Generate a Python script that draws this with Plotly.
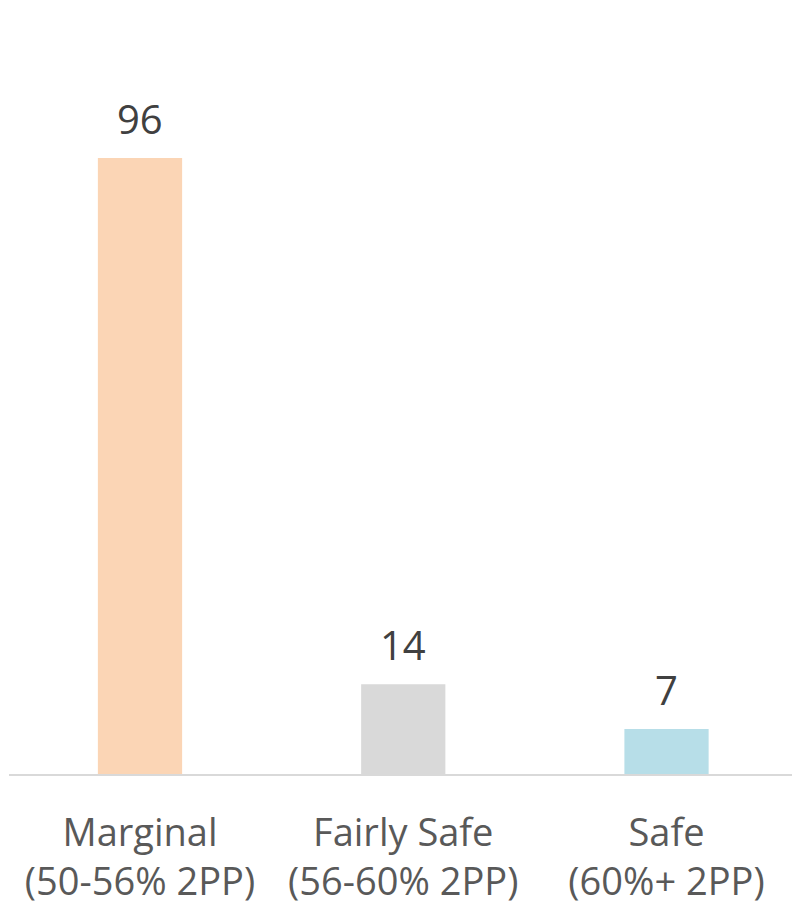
import plotly.graph_objects as go

categories = ["Marginal", "Fairly Safe", "Safe"]
subtitles = ["(50-56% 2PP)", "(56-60% 2PP)", "(60%+ 2PP)"]
values = [96, 14, 7]
colors = ["#FBD5B5", "#D9D9D9", "#B7DEE8"]

x = list(range(len(categories)))
ticktext = [f"{c}<br>{s}" for c, s in zip(categories, subtitles)]

FONT = "Open Sans"

fig = go.Figure(go.Bar(
    x=x, y=values, marker_color=colors, marker_line_width=0,
    width=0.32, hoverinfo="skip",
))

for xi, v in zip(x, values):
    fig.add_annotation(
        x=xi, y=v, xref="x", yref="y", text=str(v), showarrow=False,
        yanchor="bottom", yshift=10,
        font=dict(family=FONT, size=40, color="#404040"),
    )

fig.update_layout(
    width=792, height=905,
    margin=dict(l=9, r=0, t=20, b=131),
    paper_bgcolor="white", plot_bgcolor="white",
    showlegend=False,
    xaxis=dict(
        range=[-0.4976, 2.4767], tickmode="array", tickvals=x, ticktext=ticktext,
        tickfont=dict(family=FONT, size=38, color="#595959"),
        showline=True, linecolor="#D9D9D9", linewidth=2,
        showgrid=False, zeroline=False, ticks="",
        ticklabelstandoff=24,
    ),
    yaxis=dict(range=[0, 117.5], visible=False),
)

fig.write_html(
    "out.html",
    config={"displayModeBar": False, "staticPlot": True},
    post_script="document.body.style.margin='0';document.body.style.overflow='hidden';",
)
